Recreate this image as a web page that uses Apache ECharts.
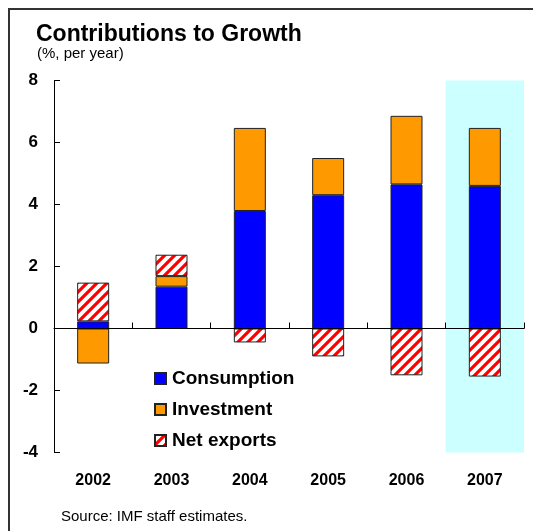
<!DOCTYPE html>
<html>
<head>
<meta charset="utf-8">
<script src="https://cdn.jsdelivr.net/npm/echarts@6/dist/echarts.min.js"></script>
<style>
  html, body { margin: 0; padding: 0; background: #fff; }
  #chart { width: 533px; height: 531px; }
</style>
</head>
<body>
<div id="chart"></div>
<script>
// Contributions to growth, percentage points per year
const categories = ['2002', '2003', '2004', '2005', '2006', '2007'];
const consumption = [0.23, 1.35, 3.79, 4.30, 4.65, 4.60];
const investment = [-1.13, 0.34, 2.68, 1.20, 2.21, 1.87];
const netExports = [1.25, 0.69, -0.45, -0.90, -1.51, -1.55];
const highlightYear = '2007';
const yTicks = { min: -4, max: 8, step: 2 };

const FONT = '"Liberation Sans", Arial, sans-serif';

// Red/white diagonal hatch used for net exports
function hatchPattern() {
  const s = 10;
  const c = document.createElement('canvas');
  c.width = s; c.height = s;
  const g = c.getContext('2d');
  g.fillStyle = '#ffffff';
  g.fillRect(0, 0, s, s);
  g.strokeStyle = '#ff0000';
  g.lineWidth = 3.2;
  g.beginPath();
  g.moveTo(-2, s + 2); g.lineTo(s + 2, -2);
  g.moveTo(-2, 2); g.lineTo(2, -2);
  g.moveTo(s - 2, s + 2); g.lineTo(s + 2, s - 2);
  g.stroke();
  return { image: c, repeat: 'repeat' };
}

const barBorder = { borderColor: '#222', borderWidth: 1 };

const chart = echarts.init(document.getElementById('chart'), null, { renderer: 'canvas' });

chart.setOption({
  animation: false,
  backgroundColor: '#ffffff',
  textStyle: { fontFamily: FONT },
  title: [
    {
      text: 'Contributions to Growth',
      left: 36, top: 23,
      padding: 0,
      textStyle: { fontFamily: FONT, fontSize: 23, fontWeight: 'bold', color: '#000' }
    },
    {
      text: '(%, per year)',
      left: 37, top: 46,
      padding: 0,
      textStyle: { fontFamily: FONT, fontSize: 15, fontWeight: 'normal', color: '#000' }
    },
    {
      text: 'Source: IMF staff estimates.',
      left: 61, top: 509,
      padding: 0,
      textStyle: { fontFamily: FONT, fontSize: 15, fontWeight: 'normal', color: '#000' }
    }
  ],
  legend: {
    orient: 'vertical',
    left: 154, top: 369,
    padding: 0,
    itemWidth: 11, itemHeight: 11,
    itemGap: 12,
    icon: 'rect',
    textStyle: { fontFamily: FONT, fontSize: 19, fontWeight: 'bold', color: '#000', padding: [0, 0, 0, 1] },
    data: ['Consumption', 'Investment', 'Net exports']
  },
  grid: { left: 54, right: 9, top: 80.5, bottom: 78.5, containLabel: false },
  xAxis: [
    {
      // year labels along the bottom
      type: 'category',
      data: categories,
      position: 'bottom',
      axisLine: { show: false, onZero: false },
      axisTick: { show: false },
      axisLabel: { fontFamily: FONT, fontSize: 16, fontWeight: 'bold', color: '#000', margin: 20 }
    },
    {
      // zero line with category ticks
      type: 'category',
      data: categories,
      position: 'bottom',
      z: 3,
      axisLine: { show: true, onZero: true, lineStyle: { color: '#000', width: 1 } },
      axisTick: { show: true, inside: true, length: 6, lineStyle: { color: '#000' } },
      axisLabel: { show: false }
    }
  ],
  yAxis: {
    type: 'value',
    min: yTicks.min, max: yTicks.max, interval: yTicks.step,
    axisLine: { show: true, onZero: false, lineStyle: { color: '#000', width: 1 } },
    axisTick: { show: true, inside: true, length: 6, lineStyle: { color: '#000' } },
    splitLine: { show: false },
    axisLabel: { fontFamily: FONT, fontSize: 17, fontWeight: 'bold', color: '#000', margin: 16 }
  },
  series: [
    {
      name: 'Consumption',
      type: 'bar',
      stack: 'growth',
      barWidth: 32,
      data: consumption,
      itemStyle: Object.assign({ color: '#0000ff' }, barBorder),
      markArea: {
        silent: true,
        itemStyle: { color: '#ccffff', opacity: 1 },
        data: [[{ xAxis: highlightYear }, { xAxis: highlightYear }]]
      }
    },
    {
      name: 'Investment',
      type: 'bar',
      stack: 'growth',
      barWidth: 32,
      data: investment,
      itemStyle: Object.assign({ color: '#ff9900' }, barBorder)
    },
    {
      name: 'Net exports',
      type: 'bar',
      stack: 'growth',
      barWidth: 32,
      data: netExports,
      itemStyle: Object.assign({ color: hatchPattern() }, barBorder)
    }
  ],
  graphic: [
    {
      // frame on the top and left edges
      type: 'polyline',
      silent: true,
      shape: { points: [[9, 531], [9, 9], [533, 9]] },
      style: { stroke: '#333', lineWidth: 2, fill: null }
    }
  ]
});
</script>
</body>
</html>
